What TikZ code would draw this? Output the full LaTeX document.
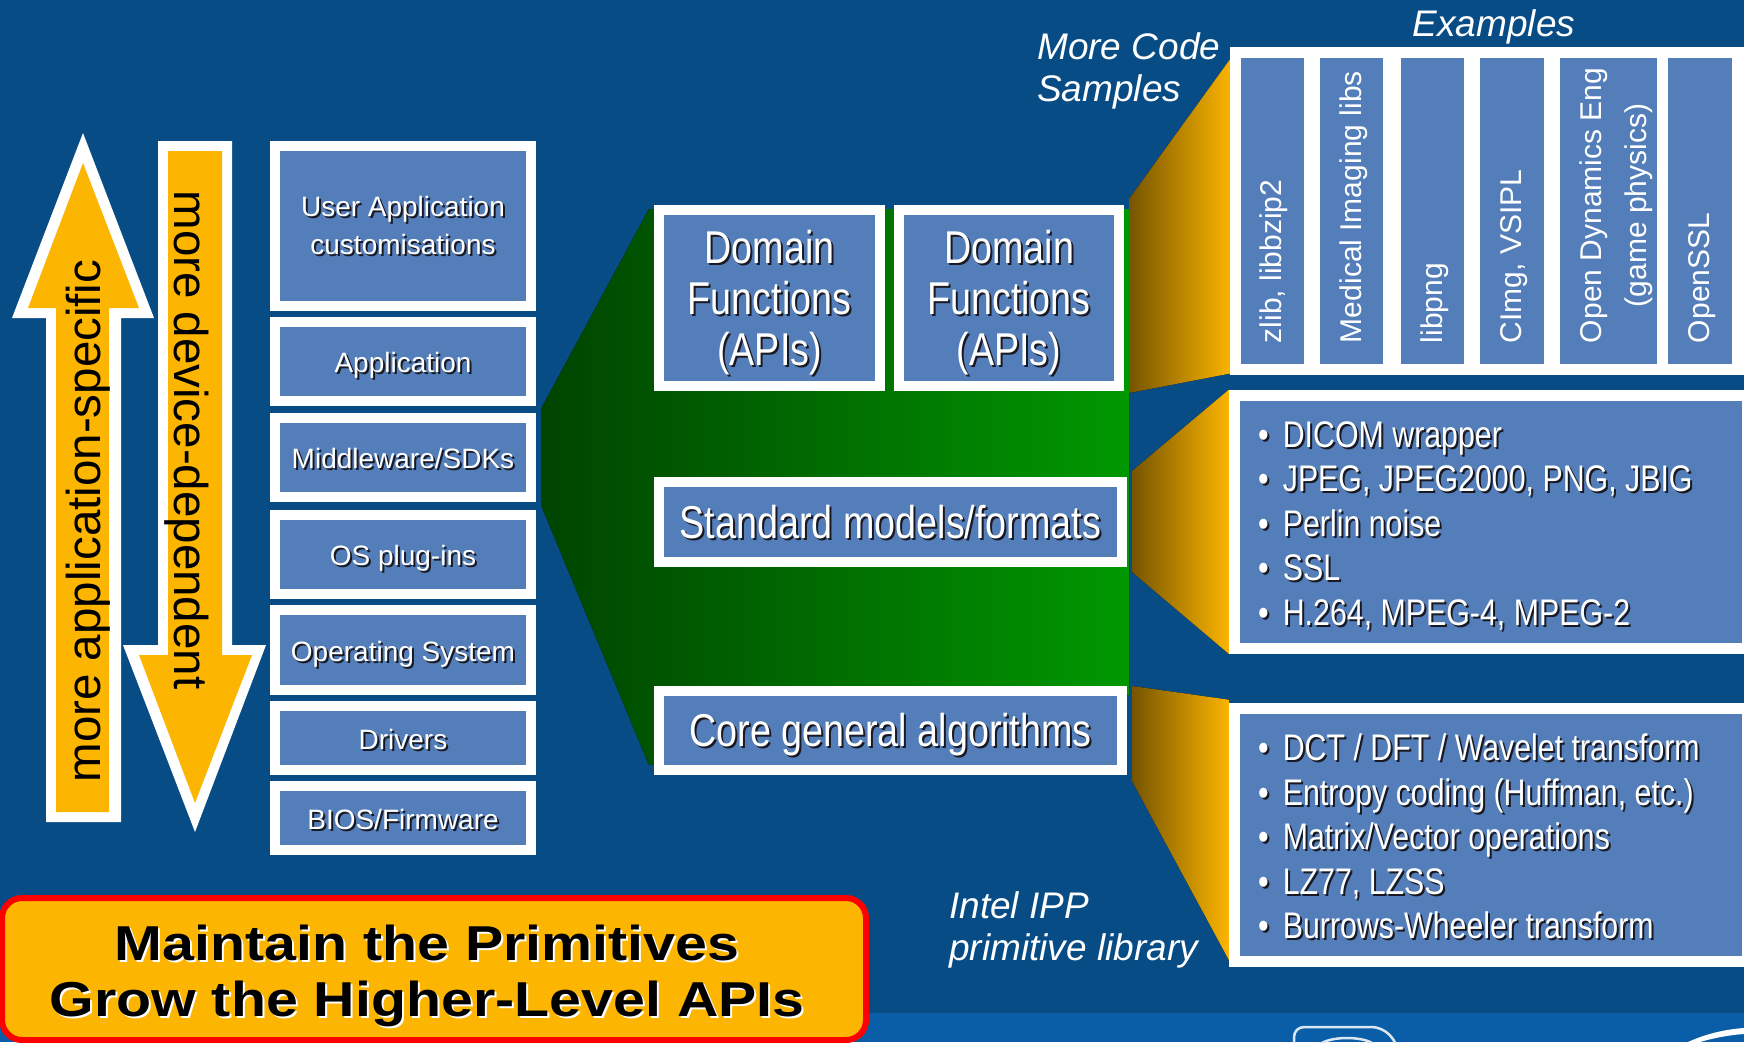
\documentclass[tikz,border=0pt]{standalone}
\usepackage{fontspec}
\setmainfont{Liberation Sans}
\newfontfamily\narrowf[FakeStretch=0.82]{Liberation Sans}
\newfontfamily\widef[FakeStretch=1.17]{Liberation Sans}
\usetikzlibrary{calc}
\pgfdeclarelayer{back}
\pgfdeclarelayer{mid}
\pgfsetlayers{back,mid,main}
\definecolor{bgblue}{RGB}{8,76,134}
\definecolor{band}{RGB}{10,94,168}
\definecolor{boxblue}{RGB}{84,126,185}
\definecolor{orng}{RGB}{252,181,0}
\definecolor{brwn}{RGB}{118,84,0}
\definecolor{gdark}{RGB}{0,68,0}
\definecolor{gbright}{RGB}{0,152,0}
\definecolor{shad}{RGB}{25,25,35}
\newcommand\fsz[2]{\fontsize{#1}{#2}\selectfont}
\newcommand\shd[2]{\makebox[0pt][l]{\kern2pt\raisebox{-2pt}{\textcolor{#1}{#2}}}#2}
\newcommand\ds[1]{\shd{shad}{#1}}
\newcommand\bl[1]{\ds{•}\hspace{14pt}\ds{#1}}
\begin{document}
\begin{tikzpicture}[x=1pt,y=-1pt,
  layerbox/.style={rectangle, fill=boxblue, draw=white, line width=10pt, inner sep=0pt,
    text=white, align=center, minimum width=256pt, font=\fsz{28}{38}},
  oneline/.style={text height=23pt, text depth=1pt},
  midbox/.style={rectangle, fill=boxblue, draw=white, line width=10pt, inner sep=0pt},
  midtxt/.style={inner sep=0pt, text=white, align=center, font=\narrowf\fsz{46}{51}},
  listbox/.style={rectangle, fill=boxblue, draw=white, line width=11pt, inner sep=0pt,
    minimum width=512.5pt, minimum height=253.5pt},
  colbox/.style={rectangle, fill=boxblue, inner sep=0pt, minimum height=306pt},
  coltxt/.style={rotate=90, anchor=west, inner sep=0pt, text=white, font=\fsz{30}{45}, align=center},
  bul/.style={anchor=base west, inner sep=0pt, text=white, font=\narrowf\fsz{37}{44}},
  note/.style={text=white, font=\itshape\fsz{37}{42}, align=left, inner sep=0pt},
  fan/.style={left color=brwn, right color=orng, draw=none},
  arrowtxt/.style={font=\fsz{47.5}{47.5}, text=black, inner sep=0pt}
]
\useasboundingbox (0,0) rectangle (1744,1042);
\clip (0,0) rectangle (1744,1042);
\begin{pgfonlayer}{back}
  \fill[bgblue] (0,0) rectangle (1744,1042);
  \fill[band] (0,1013) rectangle (1744,1042);
\end{pgfonlayer}

% logo fragments in the lower band
\draw[white!85!band, line width=2.5pt, rounded corners=10pt]
  (1294,1050) -- (1294,1027) -- (1382,1027) -- (1398,1044) -- (1398,1050);
\draw[white!85!band, line width=2.5pt] (1318,1048) arc[start angle=180, end angle=0, x radius=29, y radius=-10];
\fill[white] (1688,1042) .. controls (1710,1032) and (1730,1029) .. (1744,1028)
  -- (1744,1034) .. controls (1728,1035) and (1708,1039) .. (1694,1044) -- cycle;

% arrows
\fill[white] (83,133) -- (154,318) -- (121,318) -- (121,822) -- (46,822) -- (46,318) -- (12,318) -- cycle;
\fill[orng] (83,163) -- (139,308) -- (109,308) -- (109,812) -- (56,812) -- (56,308) -- (28,308) -- cycle;
\fill[white] (158,141) -- (232,141) -- (232,645) -- (266,645) -- (195,832) -- (123,645) -- (158,645) -- cycle;
\fill[orng] (168,151) -- (222,151) -- (222,655) -- (252,655) -- (195,803) -- (139,655) -- (168,655) -- cycle;
\node[arrowtxt, rotate=90] (upl) at (88,521) {more application-specific};
\node[arrowtxt, rotate=-90] (dnl) at (187,440) {more device-dependent};

% layer stack
\node[layerbox, minimum height=160pt] (usr) at (403,226) {\ds{User Application}\\\ds{customisations}};
\node[layerbox, oneline, minimum height=79pt] (app) at (403,361.5) {\ds{Application}};
\node[layerbox, oneline, minimum height=79pt] (mdw) at (403,457.5) {\ds{Middleware/SDKs}};
\node[layerbox, oneline, minimum height=79pt] (osp) at (403,554.5) {\ds{OS plug-ins}};
\node[layerbox, oneline, minimum height=80pt] (os) at (403,650) {\ds{Operating System}};
\node[layerbox, oneline, minimum height=64pt] (drv) at (403,738) {\ds{Drivers}};
\node[layerbox, oneline, minimum height=64pt] (bios) at (403,818) {\ds{BIOS/Firmware}};

% middle boxes
\node[midbox, minimum width=221pt, minimum height=176pt] (dom1) at (769.5,298) {};
\node[midbox, minimum width=220pt, minimum height=176pt] (dom2) at (1009,298) {};
\node[midbox, minimum width=463pt, minimum height=80pt] (std) at (890.5,522) {};
\node[midbox, minimum width=463pt, minimum height=79pt] (core) at (890.5,730.5) {};
\node[midtxt] (dom1t) at ($(dom1.center)+(0,6)$) {\ds{Domain}\\\ds{Functions}\\\ds{(APIs)}};
\node[midtxt] (dom2t) at ($(dom2.center)+(0,6)$) {\ds{Domain}\\\ds{Functions}\\\ds{(APIs)}};
\node[midtxt] (stdt) at ($(std.center)+(0,1)$) {\ds{Standard models/formats}};
\node[midtxt] (coret) at ($(core.center)+(0,5)$) {\ds{Core general algorithms}};

% examples
\node[rectangle, fill=white, inner sep=0pt, minimum width=520pt, minimum height=328pt] (ex) at (1490,211) {};
\node[colbox, minimum width=63pt] (c1) at (1272,211) {};
\node[colbox, minimum width=63pt] (c2) at (1351.5,211) {};
\node[colbox, minimum width=63pt] (c3) at (1432.5,211) {};
\node[colbox, minimum width=63.5pt] (c4) at (1512,211) {};
\node[colbox, minimum width=97pt] (c5) at (1608.5,211) {};
\node[colbox, minimum width=63.5pt] (c6) at (1700,211) {};
\node[coltxt] (t1) at ($(c1.south)+(2,-21)$) {zlib, libbzip2};
\node[coltxt] (t2) at ($(c2.south)+(2,-21)$) {Medical Imaging libs};
\node[coltxt] (t3) at ($(c3.south)+(2,-21)$) {libpng};
\node[coltxt] (t4) at ($(c4.south)+(2,-21)$) {CImg, VSIPL};
\node[coltxt] (t5) at ($(c5.south)+(8,-21)$) {Open Dynamics Eng\\(game physics)};
\node[coltxt] (t6) at ($(c6.south)+(2,-21)$) {OpenSSL};

% lists
\node[listbox] (lstd) at (1490.75,521.75) {};
\node[listbox] (lcore) at (1490.75,835) {};
\node[bul] (b1) at (1258,447) {\bl{DICOM wrapper}};
\node[bul] (b2) at (1258,491.5) {\bl{JPEG, JPEG2000, PNG, JBIG}};
\node[bul] (b3) at (1258,536) {\bl{Perlin noise}};
\node[bul] (b4) at (1258,580.5) {\bl{SSL}};
\node[bul] (b5) at (1258,625) {\bl{H.264, MPEG-4, MPEG-2}};
\node[bul] (b6) at (1258,760.8) {\bl{DCT / DFT / Wavelet transform}};
\node[bul] (b7) at (1258,805.3) {\bl{Entropy coding (Huffman, etc.)}};
\node[bul] (b8) at (1258,849.8) {\bl{Matrix/Vector operations}};
\node[bul] (b9) at (1258,894.3) {\bl{LZ77, LZSS}};
\node[bul] (b10) at (1258,938.8) {\bl{Burrows-Wheeler transform}};

% notes
\node[note] (exl) at (1494,27) {Examples};
\node[note, anchor=west] (mcs) at (1037,71) {More Code\\Samples};
\node[note, anchor=west] (ipp) at (949,930) {Intel IPP\\primitive library};

% bottom banner
\node[rectangle, rounded corners=20pt, fill=orng, draw=red, line width=6pt, inner sep=0pt,
  minimum width=864pt, minimum height=142pt] (prim) at (434,969) {};
\node[font=\widef\bfseries\fsz{49}{56.5}, align=center, inner sep=0pt] (primtxt) at (427,977)
  {\shd{white}{Maintain the Primitives}\\\shd{white}{Grow the Higher-Level APIs}};

% green and orange connecting shapes
\begin{pgfonlayer}{mid}
  \fill[left color=gdark, right color=gbright]
    ($(mdw.north east)+(5,-4)$) -- ($(dom1.north west)+(-5,4)$) -- ($(dom2.north east)+(5,4)$)
    -- ($(core.north east)+(2,9)$) -- ($(core.south west)+(-5,-10)$) -- ($(osp.north east)+(5,-5)$) -- cycle;
  \fill[fan] ($(dom2.north east)+(5,-6)$) -- ($(ex.north west)+(2,10)$) -- ($(ex.south west)+(2,-2)$) -- ($(dom2.south east)+(5,2)$) -- cycle;
  \fill[fan] ($(std.north east)+(5,-6)$) -- (lstd.north west) -- (lstd.south west) -- ($(std.south east)+(5,5)$) -- cycle;
  \fill[fan] ($(core.north east)+(5,0)$) -- ($(lcore.north west)+(0,-3)$) -- ($(lcore.south west)+(0,-7)$) -- ($(core.south east)+(5,6)$) -- cycle;
\end{pgfonlayer}
\end{tikzpicture}
\end{document}
